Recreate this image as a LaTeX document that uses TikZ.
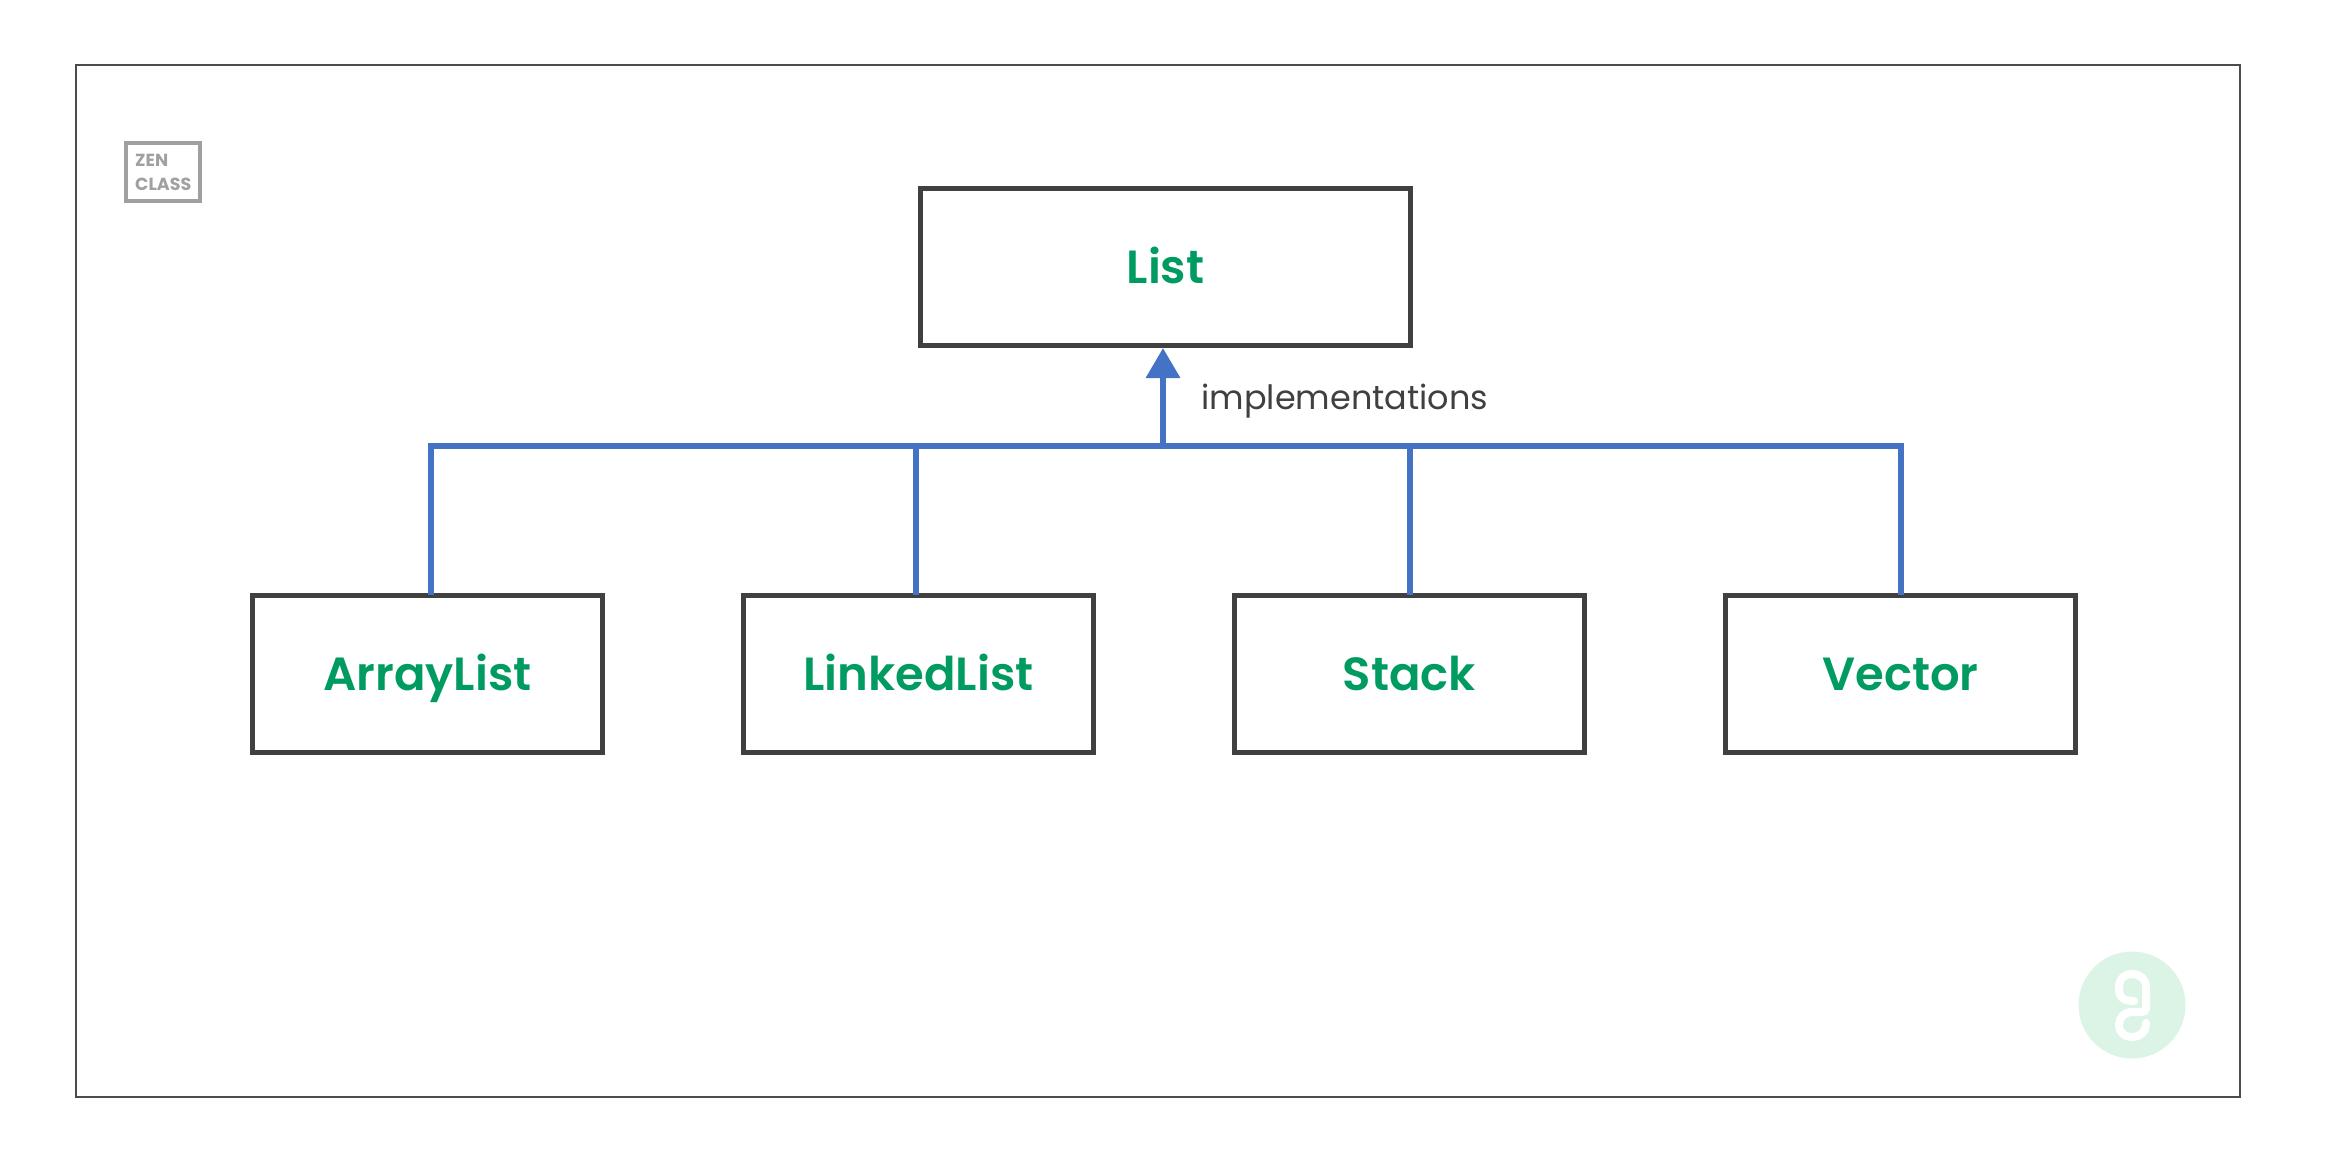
\documentclass[tikz,border=0pt]{standalone}
\usepackage{fontspec}
\setmainfont{Poppins}
\newfontfamily\labelfont{Poppins SemiBold}
\usetikzlibrary{positioning}
\usetikzlibrary{arrows.meta}

\definecolor{boxgray}{HTML}{404040}
\definecolor{wireblue}{HTML}{4472C4}
\definecolor{labelgreen}{HTML}{009B60}
\definecolor{badgegreen}{HTML}{DBF4E5}
\definecolor{zengray}{HTML}{A0A0A0}

\begin{document}
\begin{tikzpicture}[x=1pt,y=-1pt,>={Triangle[length=30pt,width=33pt]},on grid,node distance=491pt,
	classbox/.style={rectangle,draw=boxgray,line width=5pt,outer sep=0pt,minimum width=350pt,minimum height=157pt,text height=33pt,text depth=0pt,text=labelgreen,font=\labelfont\fontsize{46.5}{50}\selectfont},
	wire/.style={draw=wireblue,line width=6.5pt},
	]
	\useasboundingbox (0,0) rectangle (2326,1165);
	\node[draw=black!70,line width=1.2pt,minimum width=2164pt,minimum height=1032pt,outer sep=0pt] (frame) at (1158,581) {};

	% zen class badge
	\node[draw=zengray,line width=4pt,minimum width=74pt,minimum height=58pt,outer sep=0pt] (zen) at (163,172) {};
	\node[text=zengray,font=\bfseries\fontsize{17.5}{24}\selectfont,align=left,inner sep=0pt,anchor=west] (zentext) at (135,172) {ZEN\\CLASS};

	% classes
	\node[classbox,minimum width=490pt] (list) at (1165.5,266.5) {List};
	\node[classbox] (arraylist) at (427.5,673.5) {ArrayList};
	\node[classbox,right = of arraylist] (linkedlist) {LinkedList};
	\node[classbox,right = of linkedlist] (stack) {Stack};
	\node[classbox,right = of stack] (vector) {Vector};

	\node[text=boxgray,font=\fontsize{33.5}{38}\selectfont,anchor=base west] (impl) at (1198,409.5) {implementations};

	% wires
	\coordinate (hub) at (1163,446);
	\coordinate (tapa) at (431,446);
	\coordinate (tapb) at (916,446);
	\coordinate (tapc) at (1410,446);
	\coordinate (tapd) at (1901,446);

	\draw[wire,line join=miter] (tapa |- arraylist.north) -- (tapa) -- (tapd) -- (tapd |- vector.north);
	\draw[wire] (tapb) -- (tapb |- linkedlist.north);
	\draw[wire] (tapc) -- (tapc |- stack.north);
	\draw[wire,->,shorten >=3pt] (hub) -- (hub |- list.south);

	% logo
	\node[circle,fill=badgegreen,minimum size=107pt,inner sep=0pt] (badge) at (2132,1005) {};
	\draw[white,line width=8pt,line cap=round] (2134,1001) .. controls (2124,1001) and (2119,998) .. (2119,988)
		.. controls (2119,978) and (2125,974) .. (2132,974)
		.. controls (2140,974) and (2146,979) .. (2146,987)
		-- (2146,1008) .. controls (2146,1011) and (2144,1012) .. (2141,1012)
		-- (2132,1012) .. controls (2124,1012) and (2119,1018) .. (2119,1025)
		.. controls (2119,1033) and (2125,1037) .. (2132,1037)
		.. controls (2140,1037) and (2146,1032) .. (2146,1023);
\end{tikzpicture}
\end{document}
